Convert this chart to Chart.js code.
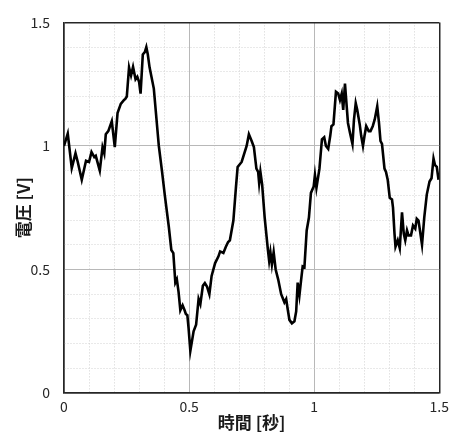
<!DOCTYPE html>
<html>
<head>
<meta charset="utf-8">
<script src="https://cdn.jsdelivr.net/npm/chart.js@4/dist/chart.umd.min.js"></script>
<style>
  html, body { margin: 0; padding: 0; background: #fff; }
  canvas { display: block; }
</style>
</head>
<body>
<canvas id="voltageChart" width="454" height="435"></canvas>
<script>
// time [s] and voltage [V]
const timeSec = [
  0.000, 0.015, 0.031, 0.046, 0.055, 0.071, 0.088, 0.100, 0.110, 0.121, 0.127, 0.143, 0.154, 0.161, 0.167, 0.177,
  0.191, 0.203, 0.214, 0.227, 0.240, 0.245, 0.251, 0.260, 0.268, 0.276, 0.286, 0.293, 0.300, 0.306, 0.315, 0.323,
  0.329, 0.335, 0.342, 0.359, 0.379, 0.392, 0.403, 0.419, 0.429, 0.437, 0.445, 0.451, 0.458, 0.465, 0.474, 0.482,
  0.487, 0.493, 0.498, 0.505, 0.518, 0.528, 0.538, 0.545, 0.555, 0.563, 0.572, 0.581, 0.590, 0.604, 0.617, 0.624,
  0.637, 0.647, 0.656, 0.663, 0.677, 0.687, 0.694, 0.710, 0.716, 0.730, 0.739, 0.750, 0.759, 0.769, 0.776, 0.780,
  0.785, 0.792, 0.802, 0.815, 0.820, 0.825, 0.831, 0.838, 0.846, 0.856, 0.868, 0.881, 0.888, 0.894, 0.901, 0.911,
  0.921, 0.928, 0.934, 0.941, 0.948, 0.954, 0.961, 0.970, 0.979, 0.987, 0.998, 1.003, 1.009, 1.021, 1.031, 1.040,
  1.047, 1.056, 1.064, 1.069, 1.077, 1.087, 1.096, 1.103, 1.110, 1.116, 1.123, 1.127, 1.135, 1.143, 1.153, 1.159,
  1.166, 1.172, 1.182, 1.188, 1.195, 1.201, 1.208, 1.218, 1.225, 1.234, 1.242, 1.252, 1.259, 1.265, 1.271, 1.281,
  1.287, 1.294, 1.302, 1.311, 1.315, 1.321, 1.325, 1.334, 1.342, 1.351, 1.358, 1.364, 1.371, 1.377, 1.387, 1.395,
  1.404, 1.410, 1.417, 1.431, 1.440, 1.450, 1.461, 1.469, 1.477, 1.483, 1.490, 1.497
];
const voltage = [
  1.000, 1.050, 0.910, 0.970, 0.935, 0.863, 0.940, 0.935, 0.975, 0.955, 0.960, 0.900, 0.995, 0.970, 1.047, 1.060,
  1.100, 0.995, 1.133, 1.170, 1.186, 1.190, 1.200, 1.318, 1.285, 1.320, 1.270, 1.280, 1.260, 1.212, 1.370, 1.380,
  1.400, 1.370, 1.318, 1.232, 1.000, 0.895, 0.800, 0.672, 0.579, 0.566, 0.447, 0.460, 0.408, 0.335, 0.355, 0.335,
  0.320, 0.315, 0.262, 0.170, 0.250, 0.276, 0.381, 0.360, 0.434, 0.445, 0.430, 0.400, 0.474, 0.526, 0.552, 0.573,
  0.567, 0.592, 0.611, 0.618, 0.698, 0.829, 0.915, 0.935, 0.955, 1.000, 1.047, 1.020, 0.995, 0.908, 0.895, 0.850,
  0.895, 0.843, 0.711, 0.579, 0.535, 0.570, 0.520, 0.570, 0.500, 0.460, 0.400, 0.367, 0.380, 0.340, 0.296, 0.282,
  0.290, 0.330, 0.447, 0.395, 0.460, 0.513, 0.510, 0.658, 0.710, 0.810, 0.836, 0.882, 0.830, 0.908, 1.027, 1.035,
  1.000, 0.988, 1.040, 1.080, 1.087, 1.219, 1.212, 1.186, 1.212, 1.146, 1.252, 1.199, 1.093, 1.053, 1.008, 1.107,
  1.173, 1.146, 1.087, 1.040, 1.000, 1.040, 1.080, 1.060, 1.060, 1.080, 1.107, 1.160, 1.093, 1.020, 1.008, 0.908,
  0.895, 0.862, 0.790, 0.783, 0.750, 0.645, 0.592, 0.618, 0.586, 0.731, 0.645, 0.618, 0.658, 0.638, 0.638, 0.678,
  0.665, 0.705, 0.698, 0.600, 0.711, 0.803, 0.856, 0.869, 0.949, 0.922, 0.915, 0.863
];
const axisMin = 0;
const axisMax = 1.5;
const minorStep = 0.1;
const xTitle = '時間 [秒]';
const yTitle = '電圧 [V]';

const axisColor = '#262626';
const majorGrid = '#b8b8b8';
const minorGrid = '#d2d2d2';

function tenths(v) { return Math.round(v * 10); }
function isMajor(v) { return tenths(v) % 5 === 0; }
function isEdge(v) { return tenths(v) === 0 || tenths(v) === 15; }

function gridColor(ctx) {
    if (!ctx.tick) return axisColor;
    const v = ctx.tick.value;
    if (isEdge(v)) return axisColor;
    return isMajor(v) ? majorGrid : minorGrid;
}
function gridWidth(ctx) {
    if (!ctx.tick) return 1.5;
    return isEdge(ctx.tick.value) ? 1.5 : 1;
}
function gridDash(ctx) {
    if (!ctx.tick) return [];
    return isMajor(ctx.tick.value) ? [] : [1, 2];
}
function tickLabel(v) {
    return isMajor(v) ? String(tenths(v) / 10) : '';
}

const tickFont = { family: '"Noto Sans CJK JP", "Noto Sans", sans-serif', size: 14 };
const titleFont = { family: '"Noto Sans CJK JP", sans-serif', size: 17, weight: 'bold' };

const ctx = document.getElementById('voltageChart').getContext('2d');
new Chart(ctx, {
    type: 'line',
    data: {
        datasets: [{
            data: timeSec.map((t, i) => ({ x: t, y: voltage[i] })),
            borderColor: '#000000',
            borderWidth: 2.6,
            pointRadius: 0,
            tension: 0,
            fill: false
        }]
    },
    options: {
        responsive: false,
        animation: false,
        layout: { padding: { left: 0, right: 12, top: 14, bottom: 0 } },
        plugins: {
            legend: { display: false },
            tooltip: { enabled: false }
        },
        scales: {
            x: {
                type: 'linear',
                min: axisMin,
                max: axisMax,
                afterFit: scale => { scale.height = 42; },
                ticks: {
                    stepSize: minorStep,
                    autoSkip: false,
                    maxRotation: 0,
                    padding: 5,
                    color: axisColor,
                    font: tickFont,
                    callback: tickLabel
                },
                grid: { color: gridColor, lineWidth: gridWidth, drawTicks: false },
                border: { display: true, color: axisColor, width: 1.5, dash: gridDash },
                title: { display: true, text: xTitle, color: '#1a1a1a', font: titleFont, padding: { top: 0, bottom: 2 } }
            },
            y: {
                min: axisMin,
                max: axisMax,
                afterFit: scale => { scale.width = 64; },
                ticks: {
                    stepSize: minorStep,
                    autoSkip: false,
                    padding: 14,
                    color: axisColor,
                    font: tickFont,
                    callback: tickLabel
                },
                grid: { color: gridColor, lineWidth: gridWidth, drawTicks: false },
                border: { display: true, color: axisColor, width: 1.5, dash: gridDash },
                title: { display: true, text: yTitle, color: '#1a1a1a', font: titleFont, padding: { top: 13, bottom: 0 } }
            }
        }
    }
});
</script>
</body>
</html>
